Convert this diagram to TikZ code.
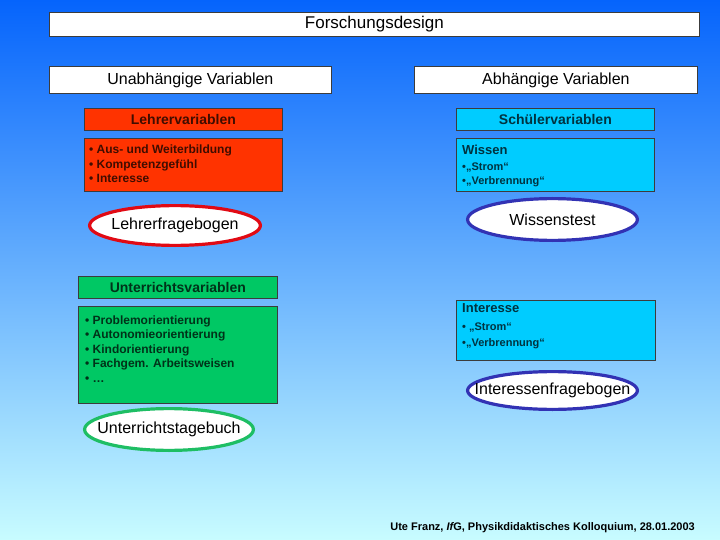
\documentclass[tikz,border=0pt]{standalone}
\usepackage{fontspec}
\setmainfont{Liberation Sans}
\usetikzlibrary{shapes.geometric}
\definecolor{bgtop}{RGB}{5,100,252}
\definecolor{bgbot}{RGB}{200,252,255}
\definecolor{redfill}{RGB}{255,51,0}
\definecolor{cyanfill}{RGB}{0,204,255}
\definecolor{greenfill}{RGB}{0,200,100}
\definecolor{ellred}{RGB}{225,10,20}
\definecolor{ellblue}{RGB}{50,50,180}
\definecolor{ellgreen}{RGB}{30,190,100}
\definecolor{boxline}{RGB}{60,60,60}
\begin{document}
\begin{tikzpicture}[x=1pt,y=-1pt,
  box/.style={draw=boxline, line width=0.8pt, inner sep=0pt, anchor=north west},
  whitebox/.style={box, fill=white, font=\fontsize{16}{18}\selectfont},
  headred/.style={box, fill=redfill, text=redfill!25!black, font=\bfseries\fontsize{14}{16}\selectfont},
  headcyan/.style={box, fill=cyanfill, text=cyanfill!25!black, font=\bfseries\fontsize{14}{16}\selectfont},
  headgreen/.style={box, fill=greenfill, text=greenfill!25!black, font=\bfseries\fontsize{14}{16}\selectfont},
  listred/.style={box, fill=redfill},
  listcyan/.style={box, fill=cyanfill},
  listgreen/.style={box, fill=greenfill},
  item/.style={inner sep=0pt, anchor=base west, font=\bfseries\fontsize{12}{14}\selectfont},
  smallitem/.style={inner sep=0pt, anchor=base west, font=\bfseries\fontsize{11}{13}\selectfont, text=cyanfill!25!black},
  itemtitle/.style={inner sep=0pt, anchor=base west, font=\bfseries\fontsize{13}{15}\selectfont, text=cyanfill!25!black},
  ell/.style={ellipse, fill=white, line width=3.2pt, inner sep=0pt, font=\fontsize{16}{18}\selectfont},
  footer/.style={inner sep=0pt, anchor=base east, font=\bfseries\fontsize{11}{12}\selectfont, text=black}
]
\useasboundingbox (0,0) rectangle (720,540);
\shade[top color=bgtop, bottom color=bgbot] (0,0) rectangle (720,540);

% top boxes
\node[whitebox, minimum width=650, minimum height=24, font=\fontsize{17}{19}\selectfont] (title) at (49,12) {Forschungsdesign};
\node[whitebox, minimum width=282, minimum height=27] (unabh) at (49,66) {Unabhängige Variablen};
\node[whitebox, minimum width=283, minimum height=27] (abh) at (414,66) {Abhängige Variablen};

% Lehrer
\node[headred, minimum width=198, minimum height=22] (lv) at (84,108) {Lehrervariablen};
\node[listred, minimum width=198, minimum height=53] (lvlist) at (84,138) {};
\foreach \t [count=\i from 0] in {{• Aus- und Weiterbildung},{• Kompetenzgefühl},{• Interesse}}
  \node[item, text=redfill!25!black] (lvi\i) at (89,154+14.5*\i) {\t};
\node[ell, draw=ellred, minimum width=170.8, minimum height=39.8] (lfb) at (175,225.5) {\makebox[0pt]{Lehrerfragebogen}};

% Schueler
\node[headcyan, minimum width=198, minimum height=22] (sv) at (456,108) {Schülervariablen};
\node[listcyan, minimum width=198, minimum height=53] (wissen) at (456,138) {};
\node[itemtitle] (wt) at (462,155) {Wissen};
\node[smallitem] (w1) at (462,171) {•„Strom“};
\node[smallitem] (w2) at (462,185) {•„Verbrennung“};
\node[ell, draw=ellblue, minimum width=169.8, minimum height=41.8] (wtest) at (552.5,219.5) {\makebox[0pt]{Wissenstest}};

% Unterricht
\node[headgreen, minimum width=199, minimum height=22] (uv) at (78,276) {Unterrichtsvariablen};
\node[listgreen, minimum width=199, minimum height=97] (uvlist) at (78,306) {};
\foreach \t [count=\i from 0] in {{• Problemorientierung},{• Autonomieorientierung},{• Kindorientierung},{• Fachgem. Arbeitsweisen},{• …}}
  \node[item, text=greenfill!25!black] (uvi\i) at (85,324+14.5*\i) {\t};
\node[ell, draw=ellgreen, minimum width=168.8, minimum height=41.8] (utb) at (169,429.5) {\makebox[0pt]{Unterrichtstagebuch}};

% Interesse
\node[listcyan, minimum width=199, minimum height=60] (interesse) at (456,300) {};
\node[itemtitle] (it) at (462,312) {Interesse};
\node[smallitem] (i1) at (462,330) {• „Strom“};
\node[smallitem] (i2) at (462,346) {•„Verbrennung“};
\node[ell, draw=ellblue, minimum width=169.8, minimum height=37.8] (ifb) at (552.5,390.5) {\makebox[0pt]{Interessenfragebogen}};

% footer
\node[footer] (ft) at (695,530) {Ute Franz, {\itshape If}G, Physikdidaktisches Kolloquium, 28.01.2003};
\end{tikzpicture}
\end{document}
